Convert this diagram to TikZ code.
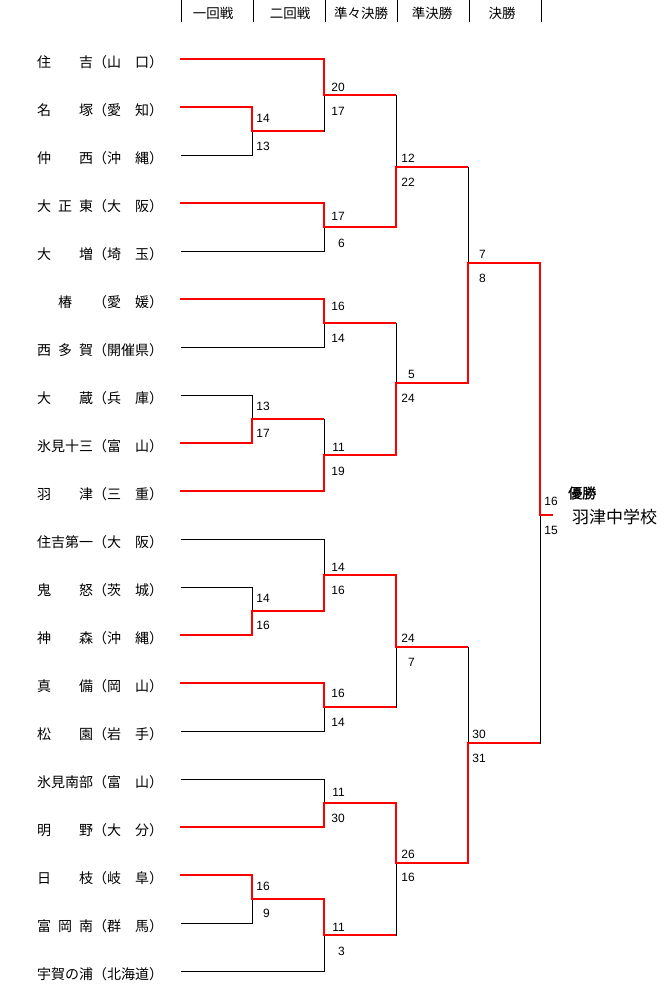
\documentclass[tikz,border=0pt]{standalone}
\usepackage{fontspec}
\setmainfont{Liberation Sans}
\newfontfamily\jp{Noto Sans CJK JP}
\newfontfamily\jpb[FakeBold=1.5]{Noto Sans CJK JP}
\newcommand\hsp{\hspace{.5em}}
\usetikzlibrary{positioning}

\begin{document}
\begin{tikzpicture}[
  x=1pt,y=-1pt,
  tm/.style={anchor=west,inner sep=0pt,font=\jp\fontsize{14}{14}\selectfont},
  hd/.style={inner sep=0pt,font=\jp\fontsize{13.5}{14}\selectfont},
  sc/.style={anchor=east,inner sep=0pt,font=\fontsize{12}{12}\selectfont},
  win/.style={draw=red,line width=2pt},
  lose/.style={draw=black,line width=1pt,transform canvas={xshift=.5pt,yshift=-.5pt}}]

\useasboundingbox (0,0) rectangle (670,1000);

% round headings
\foreach \x in {181,253,325,397,469,541} \draw[lose] (\x,0) -- (\x,22);
\foreach \x/\t [count=\k] in {213/一回戦,290/二回戦,361/準々決勝,432/準決勝,502/決勝}
  \node[hd] (h\k) at (\x,13) {\t};

% schools
\foreach \t [count=\i] in {
  {住　　吉（山　口）},{名　　塚（愛　知）},{仲　　西（沖　縄）},
  {大\hsp{}正\hsp{}東（大　阪）},{大　　増（埼　玉）},{　\hsp{}椿　\hsp{}（愛　媛）},
  {西\hsp{}多\hsp{}賀（開催県）},{大　　蔵（兵　庫）},{氷見十三（富　山）},
  {羽　　津（三　重）},{住吉第一（大　阪）},{鬼　　怒（茨　城）},
  {神　　森（沖　縄）},{真　　備（岡　山）},{松　　園（岩　手）},
  {氷見南部（富　山）},{明　　野（大　分）},{日　　枝（岐　阜）},
  {富\hsp{}岡\hsp{}南（群　馬）},{宇賀の浦（北海道）}} {
  \node[tm] (t\i) at (37,{62+48*(\i-1)}) {\t};
  \coordinate (s\i) at (180,{59+48*(\i-1)});
}

% match points
\coordinate (a1) at (252,131); \coordinate (a2) at (252,419);
\coordinate (a3) at (252,611); \coordinate (a4) at (252,899);
\coordinate (b1) at (324,95);  \coordinate (b2) at (324,227);
\coordinate (b3) at (324,323); \coordinate (b4) at (324,455);
\coordinate (b5) at (324,575); \coordinate (b6) at (324,707);
\coordinate (b7) at (324,803); \coordinate (b8) at (324,935);
\coordinate (c1) at (396,167); \coordinate (c2) at (396,383);
\coordinate (c3) at (396,647); \coordinate (c4) at (396,863);
\coordinate (d1) at (468,263); \coordinate (d2) at (468,743);
\coordinate (f)  at (540,515); \coordinate (ch) at (553,515);

% bracket
\foreach \m/\u/\l in {a1/s2/s3,a2/s8/s9,a3/s12/s13,a4/s18/s19,
  b1/s1/a1,b2/s4/s5,b3/s6/s7,b4/a2/s10,b5/s11/a3,b6/s14/s15,b7/s16/s17,b8/a4/s20,
  c1/b1/b2,c2/b3/b4,c3/b5/b6,c4/b7/b8,d1/c1/c2,d2/c3/c4,f/d1/d2}
  \draw[lose] (\u) -| (\m) |- (\l);

% winners
\foreach \m/\w/\n in {a1/s2/b1,a2/s9/b4,a3/s13/b5,a4/s18/b8,
  b1/s1/c1,b2/s4/c1,b3/s6/c2,b4/s10/c2,b5/a3/c3,b6/s14/c3,b7/s17/c4,b8/a4/c4,
  c1/b2/d1,c2/b4/d1,c3/b5/d2,c4/b7/d2,d1/c2/f,d2/c4/f,f/d1/ch}
  \draw[win] (\w) -| (\m) -- (\m -| \n);

% scores
\foreach \x/\y/\v [count=\k] in {
  270/118/14,270/146/13,270/406/13,270/433/17,270/598/14,270/625/16,270/886/16,270/913/9,
  345/87/20,345/111/17,345/216/17,345/243/6,345/306/16,345/338/14,345/447/11,345/471/19,
  345/567/14,345/590/16,345/693/16,345/722/14,345/792/11,345/818/30,345/927/11,345/951/3,
  415/158/12,415/182/22,415/374/5,415/398/24,415/638/24,415/662/7,415/854/26,415/877/16,
  486/254/7,486/278/8,486/734/30,486/758/31,
  558/501/16,558/530/15}
  \node[sc] (n\k) at (\x,\y) {\v};

% champion
\node[anchor=west,inner sep=0pt,font=\jpb\fontsize{14}{14}\selectfont] (yu) at (568,493) {優勝};
\node[anchor=west,inner sep=0pt,font=\jp\fontsize{17}{17}\selectfont] (champ) at (572,517) {羽津中学校};
\end{tikzpicture}
\end{document}
